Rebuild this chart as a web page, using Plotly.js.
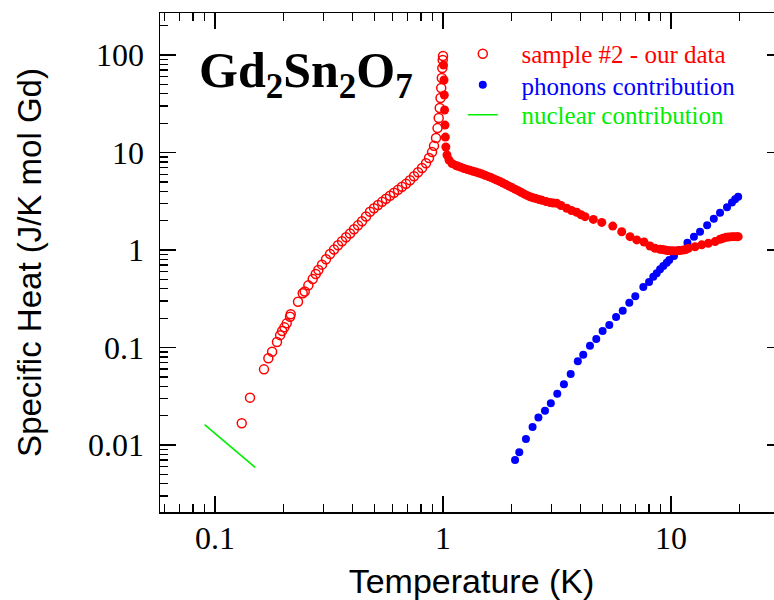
<!DOCTYPE html>
<html>
<head>
<meta charset="utf-8">
<script src="https://cdn.plot.ly/plotly-3.0.1.min.js"></script>
<style>
html, body { margin: 0; padding: 0; overflow: hidden; background: #fff; }
#chart { width: 790px; height: 600px; }
</style>
</head>
<body>
<div id="chart"></div>
<script>
// Sample #2 (our data), below the transition: open circles
var sampleT_low = [0.131, 0.1424, 0.164, 0.1714, 0.178, 0.187, 0.193, 0.197, 0.2016, 0.2063,
  0.2134, 0.2148, 0.2312, 0.2425, 0.2475, 0.2567, 0.2683, 0.2766, 0.284,
  0.2946, 0.3068, 0.3195, 0.3326, 0.3464, 0.3606, 0.3756, 0.3911, 0.4071, 0.4239,
  0.4414, 0.4596, 0.4785, 0.4983, 0.5188, 0.5403, 0.5623, 0.5854, 0.6096, 0.6347,
  0.6609, 0.6882, 0.7167, 0.746, 0.7771, 0.8091, 0.8423, 0.8682, 0.895, 0.913,
  0.9317, 0.946, 0.9574, 0.9672, 0.975, 0.982, 0.9878, 0.9929, 0.997, 1.0];
var sampleC_low = [0.0167, 0.0306, 0.0597, 0.0775, 0.0906, 0.114, 0.134, 0.148, 0.161, 0.177,
  0.207, 0.219, 0.295, 0.36, 0.375, 0.434, 0.504, 0.567, 0.624,
  0.708, 0.805, 0.91, 1.01, 1.12, 1.23, 1.35, 1.48, 1.63, 1.79,
  1.97, 2.21, 2.47, 2.68, 2.9, 3.12, 3.35, 3.6, 3.86, 4.14,
  4.45, 4.77, 5.2, 5.71, 6.28, 6.93, 7.76, 8.79, 10.1, 11.7,
  14.1, 17.8, 22.6, 28.6, 36.2, 45.9, 58.1, 73.6, 88.9, 97.7];

// Sample #2 (our data), above the transition
var sampleT_high = [1.005, 1.01, 1.013, 1.016, 1.02, 1.024, 1.029, 1.041, 1.062, 1.095, 1.14,
  1.164, 1.199, 1.236, 1.274, 1.313, 1.354, 1.395, 1.438, 1.483, 1.529, 1.576, 1.624,
  1.674, 1.725, 1.778, 1.833, 1.889, 1.948, 2.007, 2.069, 2.133, 2.199, 2.266, 2.336,
  2.408, 2.482, 2.558, 2.637, 2.718, 2.83, 2.947, 3.038, 3.153, 3.292, 3.487, 3.66,
  3.858, 4.03, 4.196, 4.563, 4.968, 5.551, 6.078, 6.61, 7.072, 7.613, 8.088, 8.507,
  8.948, 9.18, 9.412, 9.65, 9.899, 10.2, 10.59, 10.95, 11.32, 11.6, 11.91, 12.74, 13.63,
  14.57, 15.6, 16.4, 16.9, 17.43, 17.9, 18.46, 18.9, 19.42, 19.7];
var sampleC_high = [78.9, 55.4, 38.9, 27.3, 19.1, 14.4, 11.4, 9.42, 8.38, 7.71, 7.36,
  7.22, 7.05, 6.85, 6.71, 6.57, 6.43, 6.3, 6.16, 6.02, 5.85, 5.69, 5.53,
  5.36, 5.21, 5.03, 4.86, 4.69, 4.52, 4.37, 4.21, 4.06, 3.91, 3.76, 3.63,
  3.52, 3.44, 3.37, 3.3, 3.23, 3.14, 3.07, 3.03, 3.01, 2.86, 2.68, 2.54,
  2.44, 2.3, 2.2, 2.06, 1.92, 1.76, 1.54, 1.37, 1.27, 1.21, 1.1, 1.04,
  1.017, 1.01, 1.0, 0.99, 0.984, 0.984, 0.984, 0.99, 1.0, 1.01, 1.04, 1.08, 1.13,
  1.17, 1.22, 1.29, 1.32, 1.35, 1.36, 1.37, 1.37, 1.37, 1.37];

// Phonon contribution
var phononT = [2.07, 2.16, 2.31, 2.47, 2.62, 2.8, 2.97, 3.17, 3.39, 3.63,
  3.9, 4.12, 4.41, 4.7, 5.01, 5.36, 5.74, 6.14, 6.56, 6.97,
  7.56, 8.01, 8.36, 8.65, 8.95, 9.25, 9.57, 9.82, 10.3, 10.9,
  11.8, 12.6, 13.4, 14.4, 15.4, 16.4, 17.6, 18.5, 19.1, 19.7];
var phononC = [0.00702, 0.00841, 0.01153, 0.0153, 0.0191, 0.0225, 0.0268, 0.0336, 0.0419, 0.0535,
  0.0721, 0.0843, 0.104, 0.122, 0.148, 0.17, 0.206, 0.239, 0.288, 0.335,
  0.418, 0.47, 0.532, 0.577, 0.634, 0.686, 0.741, 0.789, 0.867, 1.0,
  1.19, 1.37, 1.54, 1.8, 2.09, 2.41, 2.74, 3.08, 3.31, 3.52];

// Nuclear contribution
var nuclearT = [0.09, 0.15];
var nuclearC = [0.0162, 0.0059];

var legendNames = ['sample #2 - our data', 'phonons contribution', 'nuclear contribution'];

var serif = 'Liberation Serif, Times New Roman, serif';
var sans = 'Liberation Sans, Arial, sans-serif';
var pad = '&nbsp;&nbsp;&nbsp;';

var traces = [
  {x: sampleT_low, y: sampleC_low, mode: 'markers', type: 'scatter', legend: 'legend',
   name: pad + '<span style="color:#ff0000">' + legendNames[0] + '</span>',
   marker: {symbol: 'circle-open', size: 9, color: '#ff0000', line: {width: 1.5, color: '#ff0000'}}},
  {x: phononT, y: phononC, mode: 'markers', type: 'scatter', legend: 'legend2',
   name: pad + '<span style="color:#0000ff">' + legendNames[1] + '</span>',
   marker: {symbol: 'circle', size: 8, color: '#0000ff'}},
  {x: nuclearT, y: nuclearC, mode: 'lines', type: 'scatter', legend: 'legend3',
   name: pad + '<span style="color:#00ee00">' + legendNames[2] + '</span>',
   line: {color: '#00ee00', width: 1.6}},
  {x: sampleT_high, y: sampleC_high, mode: 'markers', type: 'scatter',
   showlegend: false, name: legendNames[0],
   marker: {symbol: 'circle', size: 9, color: '#ff0000'}}
];

var axisCommon = {
  type: 'log', showgrid: false, zeroline: false,
  showline: true, linecolor: '#000', linewidth: 1.5, mirror: 'allticks',
  ticks: 'inside', ticklen: 16, tickwidth: 1.5, tickcolor: '#000',
  dtick: 1, exponentformat: 'none',
  tickfont: {family: serif, size: 32, color: '#000'},
  minor: {ticks: 'inside', ticklen: 8, tickwidth: 1.3, tickcolor: '#000', showgrid: false}
};

function legendBox(y) {
  return {x: 0.486, y: y, xanchor: 'left', yanchor: 'top',
    bgcolor: 'rgba(0,0,0,0)', borderwidth: 0,
    font: {family: serif, size: 25, color: '#000'}};
}

var layout = {
  width: 790, height: 600,
  margin: {l: 160, r: 7, t: 13, b: 88},
  paper_bgcolor: '#fff', plot_bgcolor: '#fff',
  showlegend: true,
  xaxis: Object.assign({}, axisCommon, {
    range: [-1.2412, 1.491], ticklabelstandoff: -3,
    title: {text: 'Temperature (K)', font: {family: sans, size: 34, color: '#000'}, standoff: 14}
  }),
  yaxis: Object.assign({}, axisCommon, {
    range: [-2.687, 2.431], ticklabelstandoff: 8,
    title: {text: 'Specific Heat (J/K mol Gd)', font: {family: sans, size: 33, color: '#000'}, standoff: 36}
  }),
  legend: legendBox(0.964),
  legend2: legendBox(0.9018),
  legend3: legendBox(0.8417),
  annotations: [{
    text: '<b>Gd<sub>2</sub>Sn<sub>2</sub>O<sub>7</sub></b>',
    xref: 'paper', yref: 'paper', x: 0.059, y: 0.945, xanchor: 'left', yanchor: 'top',
    showarrow: false, font: {family: serif, size: 50, color: '#000'}
  }]
};

Plotly.newPlot('chart', traces, layout, {displayModeBar: false, staticPlot: true});
</script>
</body>
</html>
